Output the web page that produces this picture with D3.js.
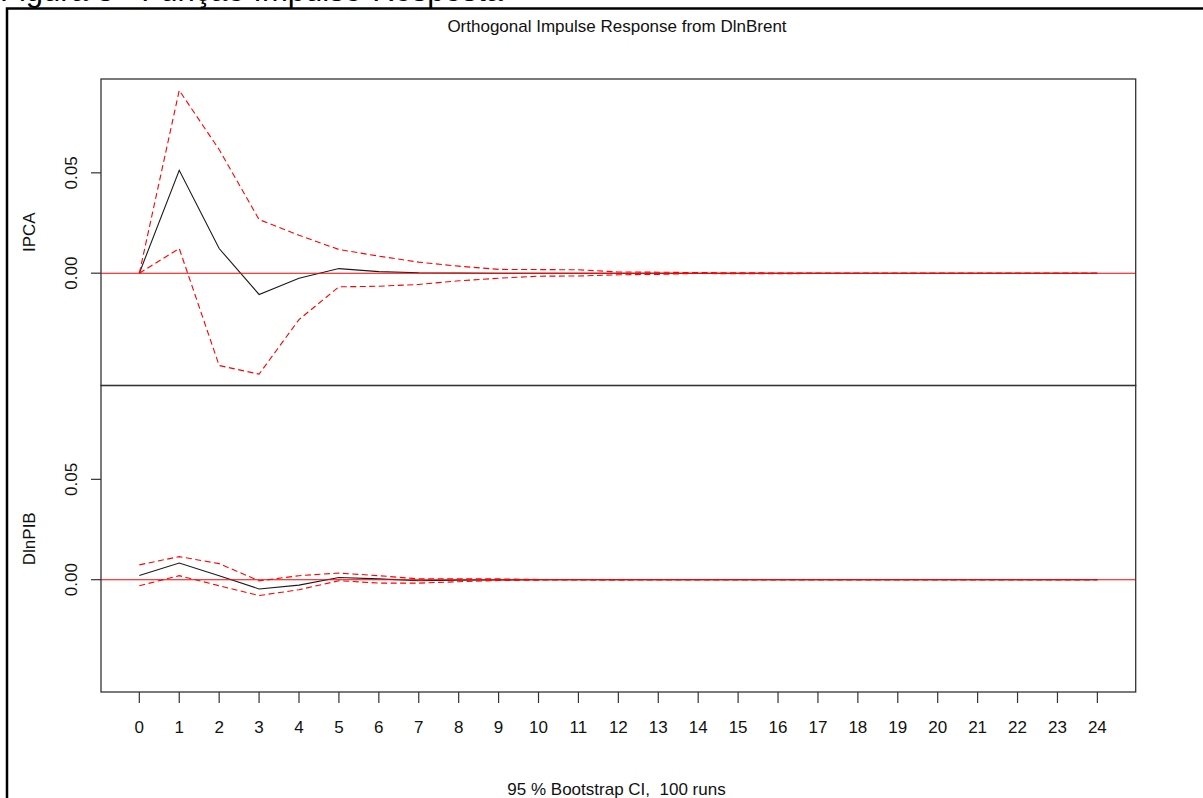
<!DOCTYPE html>
<html>
<head>
<meta charset="utf-8">
<script src="https://cdn.jsdelivr.net/npm/d3@7"></script>
<style>
	body { margin: 0; background: white; }
	svg { display: block; font-family: 'Liberation Sans', Arial, sans-serif; }
</style>
</head>
<body>
<svg width="1203" height="798"></svg>
<script>
// horizons (x axis)
let horizon = [0, 1, 2, 3, 4, 5, 6, 7, 8, 9, 10, 11, 12, 13, 14, 15, 16, 17, 18, 19, 20, 21, 22, 23, 24];

// response of IPCA
let ipca_irf   = [0, 0.0513, 0.0123, -0.0106, -0.0025, 0.0023, 0.0008, 0.0002, 0.0001, 0, 0, 0, 0, 0, 0, 0, 0, 0, 0, 0, 0, 0, 0, 0, 0];
let ipca_upper = [0, 0.0911, 0.0616, 0.0267, 0.0189, 0.0118, 0.0085, 0.0055, 0.0035, 0.0019, 0.0018, 0.0017, 0.0006, 0.0005, 0.0003, 0.0002, 0.0001, 0, 0, 0, 0, 0, 0, 0, 0];
let ipca_lower = [0, 0.0123, -0.0460, -0.0503, -0.0231, -0.0068, -0.0065, -0.0056, -0.0038, -0.0025, -0.0015, -0.0014, -0.0008, -0.0006, -0.0001, -0.0003, -0.0003, -0.0001, 0, 0, 0, 0, 0, 0, 0];

// response of DlnPIB
let pib_irf   = [0.0021, 0.0083, 0.0020, -0.0046, -0.0027, 0.0011, 0.0004, -0.0005, -0.0002, -0.0001, 0, 0, 0, 0, 0, 0, 0, 0, 0, 0, 0, 0, 0, 0, 0];
let pib_upper = [0.0074, 0.0115, 0.0080, -0.0006, 0.0020, 0.0033, 0.0020, 0.0004, 0.0005, 0.0004, 0.0001, 0.0001, 0, 0, 0, 0, 0, 0, 0, 0, 0, 0, 0, 0, 0];
let pib_lower = [-0.0030, 0.0020, -0.0030, -0.0079, -0.0050, -0.0005, -0.0017, -0.0017, -0.0010, -0.0004, -0.0002, -0.0001, -0.0001, 0, 0, 0, 0, 0, 0, 0, 0, 0, 0, 0, 0];

let y_ticks = [0, 0.05];
let panel_names = ['IPCA', 'DlnPIB'];

let svg = d3.select('svg');

// caption of the figure, cut off by the top of the picture
svg.append('text')
	.attr('x', 0)
	.attr('y', 1)
	.attr('font-size', '31px')
	.attr('fill', 'black')
	.text('Figura 3 - Função Impulso-Resposta');

// outer frame
svg.append('rect')
	.attr('x', 7)
	.attr('y', 8.5)
	.attr('width', 1300)
	.attr('height', 900)
	.attr('fill', 'none')
	.attr('stroke', 'black')
	.attr('stroke-width', 2.5);

let plot_left = 101;
let plot_right = 1135.7;
let plot_top = 79;
let plot_bottom = 692;
let panel_h = (plot_bottom - plot_top) / 2;

// R style 4% extension of the ranges
let x = d3
	.scaleLinear()
	.domain([-0.96, 24.96])
	.range([plot_left, plot_right]);

let all_values = [].concat(ipca_irf, ipca_upper, ipca_lower, pib_irf, pib_upper, pib_lower);
let yMin = d3.min(all_values);
let yMax = d3.max(all_values);
let pad = (yMax - yMin) * 0.04;

let panels = [
	{ 'name': panel_names[0], 'irf': ipca_irf, 'upper': ipca_upper, 'lower': ipca_lower },
	{ 'name': panel_names[1], 'irf': pib_irf, 'upper': pib_upper, 'lower': pib_lower }
];

panels.map(function(p, idx) {
	let y0 = plot_top + idx * panel_h;
	let y = d3
		.scaleLinear()
		.domain([yMin - pad, yMax + pad])
		.range([y0 + panel_h, y0]);

	let chart = svg.append('g');

	let line_of = function(values) {
		return d3.line()
			.x((d, i) => x(horizon[i]))
			.y(d => y(d))(values);
	};

	// irf (black)
	chart.append('path')
		.attr('d', line_of(p.irf))
		.attr('fill', 'none')
		.attr('stroke', '#1a1a1a')
		.attr('stroke-width', 1.1);

	// zero line
	chart.append('line')
		.attr('x1', plot_left)
		.attr('x2', plot_right)
		.attr('y1', y(0))
		.attr('y2', y(0))
		.attr('stroke', 'red')
		.attr('stroke-width', 1.1);

	// bootstrap bands
	[p.upper, p.lower].map(function(band) {
		chart.append('path')
			.attr('d', line_of(band))
			.attr('fill', 'none')
			.attr('stroke', 'red')
			.attr('stroke-width', 1.1)
			.attr('stroke-dasharray', '6,3.5');
	});

	// box
	chart.append('rect')
		.attr('x', plot_left)
		.attr('y', y0)
		.attr('width', plot_right - plot_left)
		.attr('height', panel_h)
		.attr('fill', 'none')
		.attr('stroke', '#333')
		.attr('stroke-width', 1.3);

	// y axis ticks and labels
	y_ticks.map(function(t) {
		chart.append('line')
			.attr('x1', plot_left - 10)
			.attr('x2', plot_left)
			.attr('y1', y(t))
			.attr('y2', y(t))
			.attr('stroke', '#333')
			.attr('stroke-width', 1.2);
		chart.append('text')
			.attr('transform', 'translate(76.5,' + y(t) + ') rotate(-90)')
			.attr('text-anchor', 'middle')
			.attr('font-size', '17px')
			.attr('fill', '#111')
			.text(d3.format('.2f')(t));
	});

	chart.append('text')
		.attr('transform', 'translate(35,' + (y0 + panel_h / 2) + ') rotate(-90)')
		.attr('text-anchor', 'middle')
		.attr('font-size', '17px')
		.attr('fill', '#111')
		.text(p.name);
});

// x axis under the second panel
let xAxis = svg.append('g');
horizon.map(function(h) {
	xAxis.append('line')
		.attr('x1', x(h))
		.attr('x2', x(h))
		.attr('y1', plot_bottom)
		.attr('y2', plot_bottom + 11)
		.attr('stroke', '#333')
		.attr('stroke-width', 1.2);
	xAxis.append('text')
		.attr('x', x(h))
		.attr('y', 732.5)
		.attr('text-anchor', 'middle')
		.attr('font-size', '17px')
		.attr('fill', '#111')
		.text(h);
});

// titles
svg.append('text')
	.attr('x', 617)
	.attr('y', 32)
	.attr('text-anchor', 'middle')
	.attr('font-size', '17px')
	.attr('fill', '#111')
	.text('Orthogonal Impulse Response from DlnBrent');

svg.append('text')
	.attr('x', 616.5)
	.attr('y', 795)
	.attr('text-anchor', 'middle')
	.attr('font-size', '17px')
	.attr('fill', '#111')
	.style('white-space', 'pre')
	.text('95 % Bootstrap CI,  100 runs');
</script>
</body>
</html>
